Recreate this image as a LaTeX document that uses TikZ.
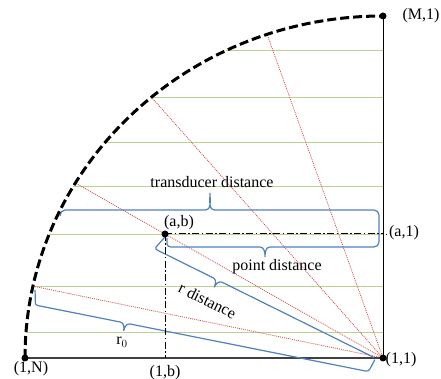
\documentclass[tikz,border=0pt]{standalone}
\usepackage{fontspec}
\setmainfont{Liberation Serif}
\usetikzlibrary{calc}
\definecolor{wblue}{RGB}{79,129,189}
\definecolor{wred}{RGB}{205,85,80}
\definecolor{wgreen}{RGB}{185,210,145}
\begin{document}
\begin{tikzpicture}[x=1pt,y=1pt,
  lbl/.style={font=\fontsize{16}{19}\selectfont, inner sep=0pt},
  gridline/.style={wgreen, line width=0.6pt},
  ray/.style={wred, line width=0.8pt, dash pattern=on 1pt off 1pt},
  bracestyle/.style={wblue, line width=1.2pt},
  dashdot/.style={black, line width=1pt, dash pattern=on 7pt off 2.5pt on 1.5pt off 2.5pt},
  dotmark/.style={circle, fill=black, inner sep=0pt, minimum size=7pt},
  arcline/.style={line width=3pt, dash pattern=on 9pt off 4pt},
  axisline/.style={line width=1.5pt, black!75},
  vline/.style={line width=1pt, black}
]
\useasboundingbox (0,0) rectangle (441,379);
\coordinate (O) at (383,21);
\coordinate (N) at (25,21);
\coordinate (M) at (383,363);
\coordinate (A) at (165,145);
\coordinate (A1) at (383,145);
\coordinate (B) at (165,21);

% grid lines and rays, clipped to the quarter ellipse
\begin{scope}
  \clip (N) arc[start angle=180,end angle=90,x radius=358,y radius=342] -- (O) -- cycle;
  \foreach \yy in {329,282,237,193,145,93,47}
    \draw[gridline] (0,\yy) -- (383,\yy);
  \foreach \ang in {168.4,131.6,109.7}
    \draw[ray] (O) -- ++(\ang:420);
  \draw[ray] (O) -- ($(O)!3!(A)$);
\end{scope}

% frame lines
\draw[axisline] (N) -- (O);
\draw[vline] (O) -- (M);

% transducer distance brace
\draw[bracestyle] (60,163) to[out=90,in=180] (65,169) -- (205,169)
  to[out=0,in=-90] (210,186) to[out=-90,in=180] (215,169) -- (374,169)
  to[out=0,in=90] (379,164) -- (379,137);
% point distance brace
\draw[bracestyle] (167,141) -- (167,135) to[out=-90,in=180] (171,132) -- (260,132)
  to[out=0,in=90] (265,122) to[out=90,in=180] (270,132) -- (374,132)
  to[out=0,in=-90] (379,137);
% r distance brace
\begin{scope}[shift={(155,130)}, rotate=-26.35]
  \draw[bracestyle] (3.6,15.2) -- (0,2) to[out=-90,in=180] (3,0) -- (65,0)
    to[out=0,in=90] (70,-8) to[out=90,in=180] (75,0) -- (244,0);
  \node[lbl, rotate=-26.35] (rdist) at (70,-23) {r distance};
\end{scope}
% r0 brace
\begin{scope}[shift={(35,74)}, rotate=-11.3]
  \draw[bracestyle] (-2.9,14.7) -- (0,2) to[out=-90,in=180] (3,0) -- (87,0)
    to[out=0,in=90] (92,-8) to[out=90,in=180] (97,0) -- (337,0)
    to[out=0,in=-90] (341,3) -- (344,13);
\end{scope}

% dash-dot lines
\draw[dashdot] (A) -- (A1);
\draw[dashdot] (A) -- (B);
\draw[black, line width=0.6pt, dash pattern=on 1pt off 1.5pt] (A1) -- (387,145);

% arc
\draw[arcline] (N) arc[start angle=180,end angle=90,x radius=358,y radius=342];

% dots
\node[dotmark] (dO) at (O) {};
\node[dotmark] (dN) at (N) {};
\node[dotmark] (dM) at (M) {};
\node[dotmark] (dA) at (A) {};

% labels
\node[lbl] (lM) at (421,363) {(M,1)};
\node[lbl] (la1) at (404,146) {(a,1)};
\node[lbl] (l11) at (401,19) {(1,1)};
\node[lbl] (l1N) at (31,10) {(1,N)};
\node[lbl] (l1b) at (165,6) {(1,b)};
\node[lbl] (lab) at (179,156) {(a,b)};
\node[lbl] (ltd) at (212,197) {transducer distance};
\node[lbl] (lpd) at (277,112) {point distance};
\node[lbl] (lr0) at (122,37) {r$_0$};
\end{tikzpicture}
\end{document}
